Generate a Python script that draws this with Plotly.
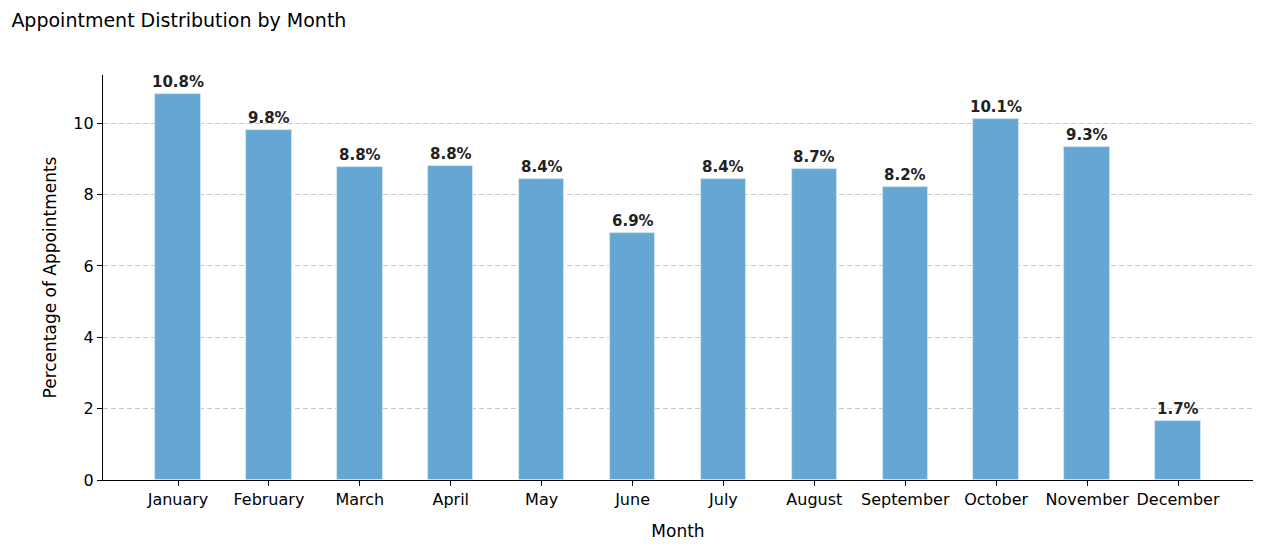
import plotly.graph_objects as go

months = ["January", "February", "March", "April", "May", "June", "July",
          "August", "September", "October", "November", "December"]
values = [10.81, 9.80, 8.77, 8.80, 8.43, 6.91, 8.43, 8.71, 8.20, 10.11, 9.32, 1.66]
labels = ["10.8%", "9.8%", "8.8%", "8.8%", "8.4%", "6.9%", "8.4%", "8.7%",
          "8.2%", "10.1%", "9.3%", "1.7%"]
yticks = [0, 2, 4, 6, 8, 10]

fig = go.Figure(go.Bar(
    x=list(range(len(months))), y=values, width=0.5,
    marker=dict(color="#66A6D3", line=dict(color="#dbe9f4", width=0.8)),
))

for i, (v, lab) in enumerate(zip(values, labels)):
    fig.add_annotation(
        x=i, y=v, text=lab, showarrow=False, yanchor="bottom", yshift=1,
        font=dict(family="DejaVu Sans", size=15, color="#222222", weight="bold"),
    )

fig.update_layout(
    width=1264, height=550,
    margin=dict(l=103, r=11, t=75, b=70),
    paper_bgcolor="white", plot_bgcolor="white",
    font=dict(family="DejaVu Sans", color="#000000"),
    title=dict(text="Appointment Distribution by Month", x=0.009, xanchor="left",
               y=0.963, yanchor="middle", font=dict(size=19, color="#000000")),
    showlegend=False,
    bargap=0,
)
fig.update_xaxes(
    range=[-0.825, 11.825], tickmode="array", tickvals=list(range(len(months))),
    ticktext=months, showline=True, linecolor="black", linewidth=1.2,
    ticks="outside", ticklen=5, tickcolor="black", showgrid=False, zeroline=False,
    tickfont=dict(size=16),
    title=dict(text="Month", font=dict(size=17), standoff=16),
)
fig.update_yaxes(
    range=[0, 11.35], tickmode="array", tickvals=yticks,
    showline=True, linecolor="black", linewidth=1.2,
    ticks="outside", ticklen=5, tickcolor="black",
    showgrid=True, gridcolor="#c8c8c8", griddash="5px,3px", gridwidth=1, zeroline=False,
    tickfont=dict(size=16),
    title=dict(text="Percentage of Appointments", font=dict(size=17), standoff=12),
)

fig.write_html("out.html")
